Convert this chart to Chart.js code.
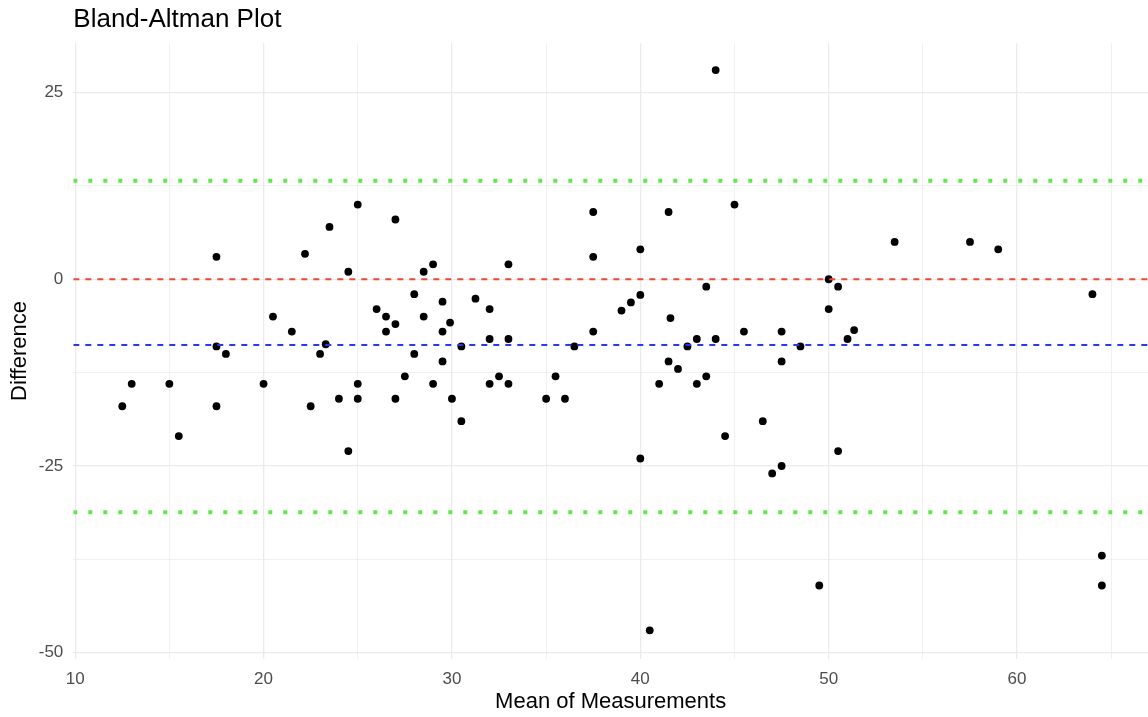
<!DOCTYPE html>
<html>
<head>
<meta charset="utf-8">
<title>Bland-Altman Plot</title>
<script src="https://cdn.jsdelivr.net/npm/chart.js@4.4.1/dist/chart.umd.min.js"></script>
<style>
  html, body { margin: 0; padding: 0; background: #ffffff; }
  #wrap { width: 1148px; height: 717px; }
</style>
</head>
<body>
<div id="wrap"><canvas id="chart" width="1148" height="717"></canvas></div>
<script>
const meanVals = [
  12.5, 13, 15, 15.5, 17.5, 17.5, 17.5, 18, 20, 20.5,
  21.5, 22.2, 22.5, 23, 23.3, 23.5, 24, 24.5, 24.5, 25,
  25, 25, 26, 26.5, 26.5, 27, 27, 27, 27.5, 28,
  28, 28.5, 28.5, 29, 29, 29.5, 29.5, 29.5, 29.9, 30,
  30.5, 30.5, 31.25, 32, 32, 32, 32.5, 33, 33, 33,
  35, 35.5, 36, 36.5, 37.5, 37.5, 37.5, 39, 39.5, 40,
  40, 40, 40.5, 41, 41.5, 41.5, 41.6, 42, 42.5, 43,
  43, 43.5, 43.5, 44, 44, 44.5, 45, 45.5, 46.5, 47,
  47.5, 47.5, 47.5, 48.5, 49.5, 50, 50, 50.5, 50.5, 51,
  51.35, 53.5, 57.5, 59, 64, 64.5, 64.5
];
const diffVals = [
  -17, -14, -14, -21, 3, -9, -17, -10, -14, -5,
  -7, 3.4, -17, -10, -8.7, 7, -16, 1, -23, 10,
  -14, -16, -4, -5, -7, 8, -6, -16, -13, -2,
  -10, 1, -5, 2, -14, -3, -7, -11, -5.8, -16,
  -9, -19, -2.6, -4, -8, -14, -13, 2, -8, -14,
  -16, -13, -16, -9, 9, 3, -7, -4.2, -3.1, 4,
  -2.1, -24, -47, -14, 9, -11, -5.2, -12, -9, -8,
  -14, -1, -13, 28, -8, -21, 10, -7, -19, -26,
  -7, -11, -25, -9, -41, 0, -4, -1, -23, -8,
  -6.8, 5, 5, 4, -2, -37, -41
];

// reference lines: zero, mean difference, limits of agreement
const zeroLine = 0;
const meanDiff = -8.8;
const upperLoA = 13.2;
const lowerLoA = -31.2;

// axis limits and tick positions (majors get labels, the others are minor grid)
const xLimits = [9.9, 66.95];
const yLimits = [-50.8, 31.6];
const xTicks = [10, 15, 20, 25, 30, 35, 40, 45, 50, 55, 60, 65];
const yTicks = [-50, -37.5, -25, -12.5, 0, 12.5, 25];
const xMajor = [10, 20, 30, 40, 50, 60];
const yMajor = [-50, -25, 0, 25];

const FONT = "'Liberation Sans', Arial, sans-serif";

function hline(value, color, dash, width) {
  return {
    type: "line",
    data: [{ x: xLimits[0], y: value }, { x: xLimits[1], y: value }],
    borderColor: color,
    borderWidth: width,
    borderDash: dash,
    borderCapStyle: "butt",
    pointRadius: 0,
    fill: false,
    order: 1,
  };
}

const points = meanVals.map((m, i) => ({ x: m, y: diffVals[i] }));

new Chart(document.getElementById("chart"), {
  type: "scatter",
  data: {
    datasets: [
      {
        data: points,
        backgroundColor: "#000000",
        borderColor: "#000000",
        borderWidth: 0,
        pointRadius: 3.9,
        pointHoverRadius: 3.9,
        order: 2,
      },
      hline(zeroLine, "#f0473a", [6, 6], 2),
      hline(meanDiff, "#2638ee", [6, 6], 2),
      hline(upperLoA, "#5fe84c", [4, 11], 4),
      hline(lowerLoA, "#5fe84c", [4, 11], 4),
    ],
  },
  options: {
    responsive: false,
    animation: false,
    events: [],
    layout: { padding: 0, autoPadding: false },
    plugins: {
      legend: { display: false },
      tooltip: { enabled: false },
      title: {
        display: true,
        text: "Bland-Altman Plot",
        align: "start",
        fullSize: false,
        color: "#000000",
        font: { family: FONT, size: 26, weight: "normal", lineHeight: 1.2 },
        padding: { top: 4, bottom: 8 },
      },
    },
    scales: {
      x: {
        type: "linear",
        min: xLimits[0],
        max: xLimits[1],
        afterBuildTicks: (scale) => { scale.ticks = xTicks.map(v => ({ value: v })); },
        afterFit: (scale) => { scale.height = 58.3; },
        border: { display: false },
        grid: {
          drawTicks: false,
          color: "#ebebeb",
          lineWidth: (ctx) => (xMajor.includes(ctx.tick.value) ? 1.3 : 0.7),
        },
        ticks: {
          autoSkip: false,
          maxRotation: 0,
          padding: 10,
          color: "#4d4d4d",
          font: { family: FONT, size: 17 },
          callback: (v) => (xMajor.includes(v) ? String(v) : ""),
        },
        title: {
          display: true,
          text: "Mean of Measurements",
          color: "#000000",
          font: { family: FONT, size: 22, lineHeight: 1.2 },
          padding: { top: 0, bottom: 2 },
        },
      },
      y: {
        type: "linear",
        min: yLimits[0],
        max: yLimits[1],
        afterBuildTicks: (scale) => { scale.ticks = yTicks.map(v => ({ value: v })); },
        afterFit: (scale) => { scale.width = 73.3; },
        border: { display: false },
        grid: {
          drawTicks: false,
          color: "#ebebeb",
          lineWidth: (ctx) => (yMajor.includes(ctx.tick.value) ? 1.3 : 0.7),
        },
        ticks: {
          autoSkip: false,
          padding: 10,
          color: "#4d4d4d",
          font: { family: FONT, size: 17 },
          callback: (v) => (yMajor.includes(v) ? String(v) : ""),
        },
        title: {
          display: true,
          text: "Difference",
          color: "#000000",
          font: { family: FONT, size: 22, lineHeight: 1.2 },
          padding: { top: 7, bottom: 0 },
        },
      },
    },
  },
});
</script>
</body>
</html>
